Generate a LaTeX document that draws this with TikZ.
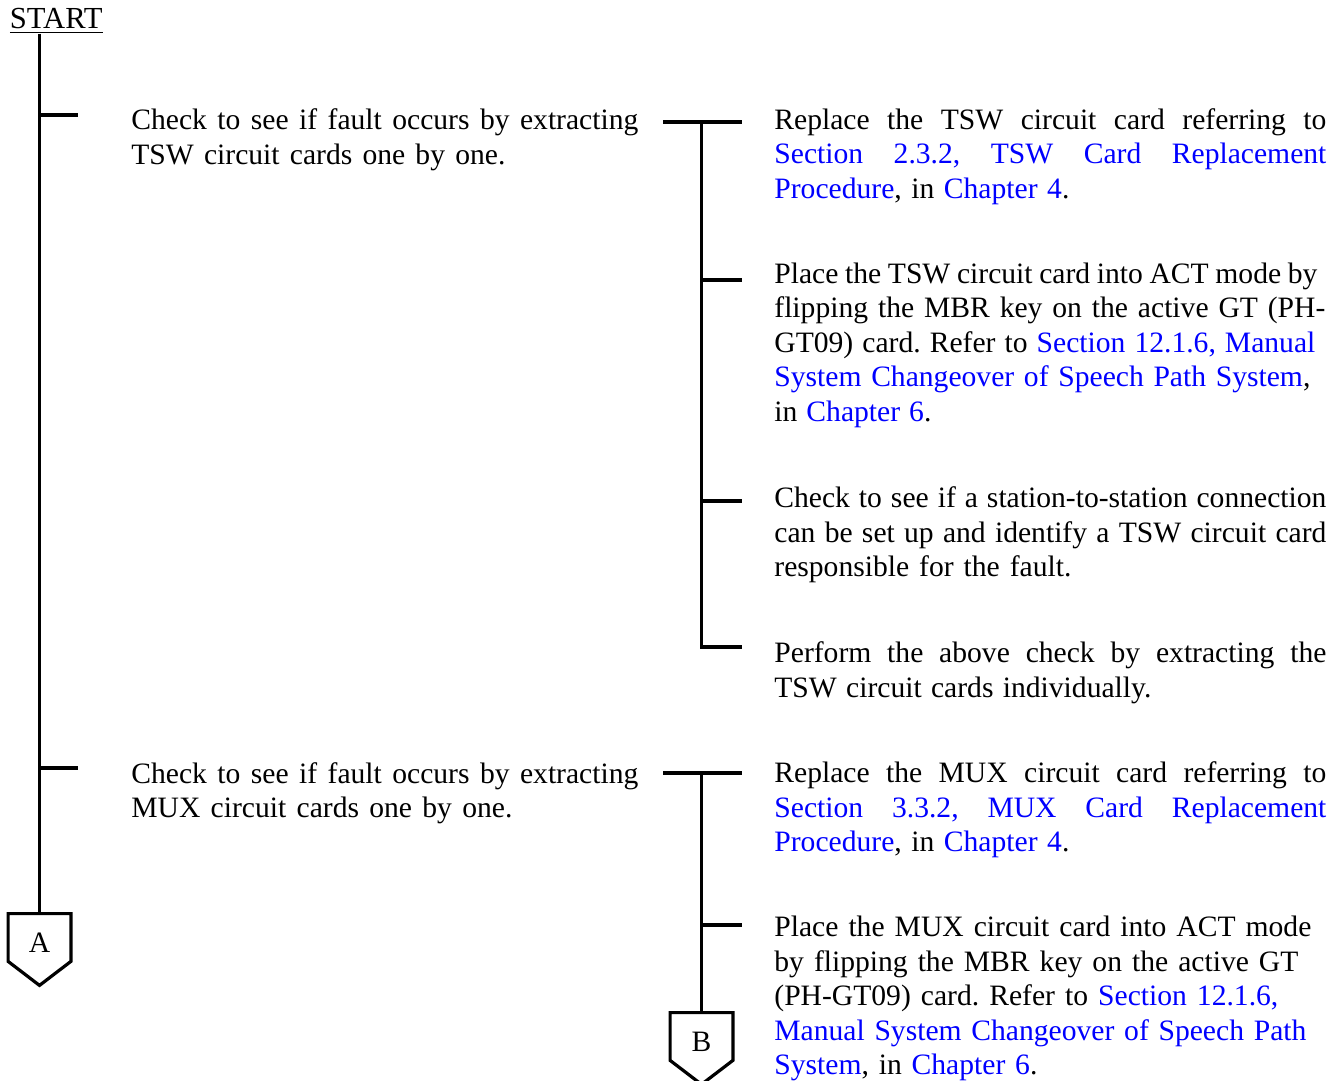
\documentclass[tikz,border=0pt]{standalone}
\usepackage{fontspec}
\setmainfont{Liberation Serif}
\usepackage{xcolor}
\definecolor{linkblue}{RGB}{0,0,255}
\frenchspacing

% cross references are printed in blue
\newcommand{\lnk}[1]{\textcolor{linkblue}{#1}}
% one printed line, spaced out to the width it has on the page (in pt)
\newcommand{\fit}[2]{\makebox[#1pt][s]{#2}}

\tikzset{
  stepnote/.style={anchor=base west, align=left, inner sep=0pt,
    font={\fontsize{14.8pt}{17.25pt}\selectfont}},
  offpage/.style={minimum width=31pt, minimum height=23.5pt, inner sep=0pt,
    text height=15.3pt, text depth=0pt, font={\fontsize{14.8pt}{17.25pt}\selectfont}},
  bar/.style={line width=1.6pt},
}

\begin{document}
\begin{tikzpicture}[x=0.5pt, y=-0.5pt]
    % coordinates are in pixels, y grows downward
    % text nodes are placed by the baseline of their last line
    \useasboundingbox (0,0) rectangle (1341,1081);

    % --- Start label and off-page connectors ---
    \node[stepnote, font={\fontsize{15.3pt}{17.25pt}\selectfont}] (start) at (9.5,29) {\underline{START}};
    \node[offpage] (A) at (39.5,937.5) {A};
    \node[offpage] (B) at (701.5,1036.5) {B};
    \foreach \n in {A,B}
        \draw[bar] (\n.north west) -- (\n.north east) -- (\n.south east)
            -- ([yshift=-12pt]\n.south) -- (\n.south west) -- cycle;

    % --- Main trunk and its branches ---
    \coordinate (t1) at (78,115);
    \coordinate (t2) at (78,768);
    \draw[bar] (start.south -| A.north) -- (A.north);
    \foreach \t in {t1,t2}
        \draw[bar] (\t -| A.north) -- (\t);

    % --- First bracket (TSW) ---
    \coordinate (g1) at (663,122);
    \coordinate (g1e) at (742,122);
    \coordinate (s1) at (701.5,122);
    \coordinate (r2) at (742,280);
    \coordinate (r3) at (742,501);
    \coordinate (r4) at (742,647);
    \draw[bar] (g1) -- (g1e);
    \draw[bar] (s1) |- (r4);
    \foreach \t in {r2,r3}
        \draw[bar] (\t -| s1) -- (\t);

    % --- Second bracket (MUX) ---
    \coordinate (g2) at (663,773);
    \coordinate (g2e) at (742,773);
    \coordinate (r6) at (742,925);
    \draw[bar] (g2) -- (g2e);
    \draw[bar] (g2 -| B.north) -- (B.north);
    \draw[bar] (r6 -| B.north) -- (r6);

    % --- Checks on the left ---
    \node[stepnote] (chk1) at (131,164.5)
        {\fit{253.5}{Check to see if fault occurs by extracting}\\
         \fit{187}{TSW circuit cards one by one.}};
    \node[stepnote] (chk2) at (131,817.5)
        {\fit{253.5}{Check to see if fault occurs by extracting}\\
         \fit{190.5}{MUX circuit cards one by one.}};

    % --- Actions on the right ---
    \node[stepnote] (act1) at (774,198.5)
        {\fit{276}{Replace the TSW circuit card referring to}\\
         \fit{276}{\lnk{Section 2.3.2, TSW Card Replacement}}\\
         \fit{147.5}{\lnk{Procedure}, in \lnk{Chapter 4}.}};
    \node[stepnote] (act2) at (774,421.5)
        {\fit{271.5}{Place the TSW circuit card into ACT mode by}\\
         \fit{275.5}{flipping the MBR key on the active GT (PH-}\\
         \fit{270.5}{GT09) card. Refer to \lnk{Section 12.1.6, Manual}}\\
         \fit{268}{\lnk{System Changeover of Speech Path System},}\\
         \fit{78.5}{in \lnk{Chapter 6}.}};
    \node[stepnote] (act3) at (774,576.5)
        {\fit{276}{Check to see if a station-to-station connection}\\
         \fit{276}{can be set up and identify a TSW circuit card}\\
         \fit{148.5}{responsible for the fault.}};
    \node[stepnote] (act4) at (774,697)
        {\fit{276}{Perform the above check by extracting the}\\
         \fit{188.5}{TSW circuit cards individually.}};
    \node[stepnote] (act5) at (774,851.5)
        {\fit{276}{Replace the MUX circuit card referring to}\\
         \fit{276}{\lnk{Section 3.3.2, MUX Card Replacement}}\\
         \fit{147.5}{\lnk{Procedure}, in \lnk{Chapter 4}.}};
    \node[stepnote] (act6) at (774,1074.5)
        {\fit{268.5}{Place the MUX circuit card into ACT mode}\\
         \fit{262}{by flipping the MBR key on the active GT}\\
         \fit{252}{(PH-GT09) card. Refer to \lnk{Section 12.1.6,}}\\
         \fit{266}{\lnk{Manual System Changeover of Speech Path}}\\
         \fit{131.5}{\lnk{System}, in \lnk{Chapter 6}.}};

\end{tikzpicture}
\end{document}
